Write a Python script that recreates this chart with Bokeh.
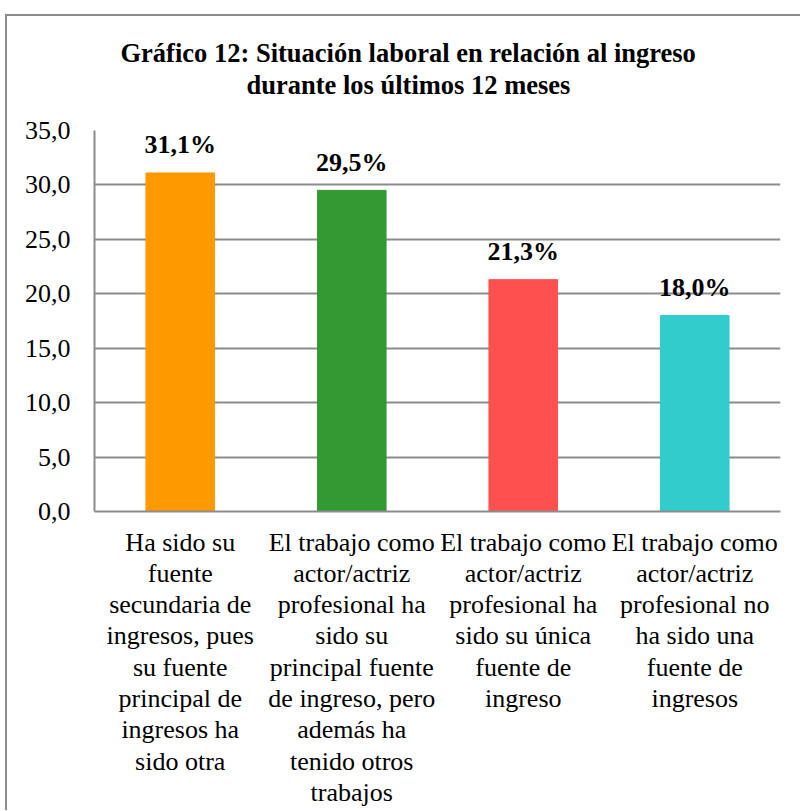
from bokeh.plotting import figure
from bokeh.models import Title, ColumnDataSource, FixedTicker
from bokeh.core.properties import value
from bokeh.embed import file_html
from bokeh.resources import INLINE

categories = [
    "Ha sido su\nfuente\nsecundaria de\ningresos, pues\nsu fuente\nprincipal de\ningresos ha\nsido otra",
    "El trabajo como\nactor/actriz\nprofesional ha\nsido su\nprincipal fuente\nde ingreso, pero\nademás ha\ntenido otros\ntrabajos",
    "El trabajo como\nactor/actriz\nprofesional ha\nsido su única\nfuente de\ningreso",
    "El trabajo como\nactor/actriz\nprofesional no\nha sido una\nfuente de\ningresos",
]
values = [31.1, 29.5, 21.3, 18.0]
value_labels = ["31,1%", "29,5%", "21,3%", "18,0%"]
colors = ["#FF9900", "#339933", "#FF5050", "#33CCCC"]
y_ticks = [0, 5, 10, 15, 20, 25, 30, 35]
y_tick_labels = ["0,0", "5,0", "10,0", "15,0", "20,0", "25,0", "30,0", "35,0"]
title_line_1 = "Gráfico 12: Situación laboral en relación al ingreso"
title_line_2 = "durante los últimos 12 meses"

FONT = "Liberation Serif"
GRID = "#8c8c8c"

src = ColumnDataSource(dict(cat=categories, val=values, lab=value_labels, col=colors))

p = figure(
    x_range=categories, y_range=(0, 35),
    frame_width=686, frame_height=381,
    min_border_left=87, min_border_right=20, min_border_top=114, min_border_bottom=270,
    output_backend="svg", toolbar_location=None,
)
p.styles = {"border-left": f"2px solid {GRID}", "border-top": f"2px solid {GRID}",
            "position": "relative", "left": "5px", "top": "14px"}

p.vbar(x="cat", top="val", width=0.40, color="col", source=src)
p.text(x="cat", y="val", text="lab", source=src, text_align="center",
       text_baseline="alphabetic", y_offset=-28,
       text_font=value(FONT), text_font_style="bold", text_font_size="26px", text_color="black")

p.outline_line_color = None
p.xgrid.grid_line_color = None
p.ygrid.grid_line_color = GRID
p.ygrid.grid_line_width = 2
p.yaxis.ticker = FixedTicker(ticks=y_ticks)
p.yaxis.major_label_overrides = {t: l for t, l in zip(y_ticks, y_tick_labels)}

for ax in (p.xaxis[0], p.yaxis[0]):
    ax.axis_line_color = GRID
    ax.axis_line_width = 2
    ax.major_tick_line_color = None
    ax.minor_tick_line_color = None
    ax.major_label_text_font = FONT
    ax.major_label_text_font_size = "26px"
    ax.major_label_text_color = "black"

p.yaxis.major_label_standoff = 18
p.xaxis.major_label_standoff = 10
p.xaxis.major_label_text_line_height = 1.08

spacer = Title(text=" ", text_font_size="1px", standoff=28)
t2 = Title(text=title_line_2, align="left", offset=152, standoff=0,
           text_font=FONT, text_font_style="bold", text_font_size="26.5px", text_color="black")
t1 = Title(text=title_line_1, align="left", offset=26, standoff=0,
           text_font=FONT, text_font_style="bold", text_font_size="26.5px", text_color="black")
p.add_layout(spacer, "above")
p.add_layout(t2, "above")
p.add_layout(t1, "above")

open("out.html", "w").write(file_html(p, INLINE))
